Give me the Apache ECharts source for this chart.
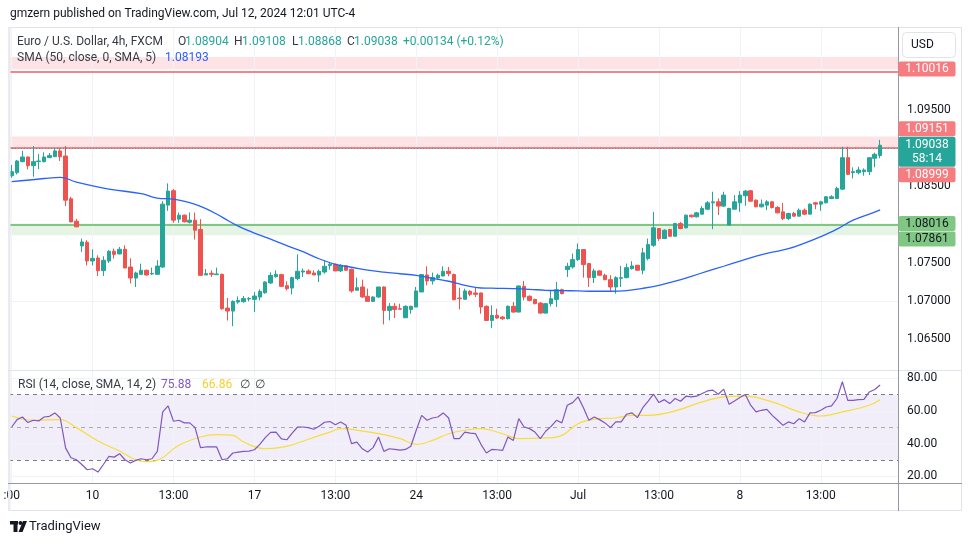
<!DOCTYPE html>
<html><head><meta charset="utf-8">
<script src="https://cdn.jsdelivr.net/npm/echarts@6/dist/echarts.min.js"></script>
<style>html,body{margin:0;padding:0;background:#fff}#c{width:970px;height:545px}</style>
</head><body><div id="c"></div><script>
// ---- data (EUR/USD 4h, FXCM) ----
const opens=[1.08639,1.08679,1.08823,1.08884,1.08770,1.08823,1.08823,1.08875,1.08888,1.08963,
1.08897,1.08338,1.08045,1.07722,1.07770,1.07525,1.07564,1.07398,1.07525,1.07652,
1.07617,1.07678,1.07446,1.07302,1.07350,1.07403,1.07355,1.07350,1.07446,1.08255,
1.08443,1.08072,1.08124,1.08032,1.08058,1.07936,1.07342,1.07364,1.07346,1.07351,
1.06909,1.06870,1.06988,1.06993,1.07028,1.07023,1.07053,1.07110,1.07237,1.07320,
1.07346,1.07202,1.07171,1.07294,1.07381,1.07394,1.07368,1.07342,1.07381,1.07465,
1.07482,1.07395,1.07461,1.07417,1.07142,1.07185,1.07063,1.06997,1.07054,1.07185,
1.06879,1.06932,1.06901,1.06783,1.06892,1.06923,1.07120,1.07342,1.07264,1.07303,
1.07329,1.07391,1.07347,1.07041,1.07024,1.07128,1.07107,1.07107,1.06932,1.06748,
1.06814,1.06792,1.06770,1.06932,1.06857,1.07194,1.07063,1.07023,1.06975,1.06844,
1.06967,1.07023,1.07150,1.07412,1.07447,1.07543,1.07674,1.07491,1.07307,1.07395,
1.07338,1.07281,1.07185,1.07298,1.07307,1.07425,1.07469,1.07404,1.07556,1.07730,
1.07949,1.07818,1.07936,1.07848,1.08014,1.07958,1.08124,1.08102,1.08137,1.08202,
1.08285,1.08298,1.08242,1.07993,1.08202,1.08285,1.08377,1.08443,1.08320,1.08233,
1.08255,1.08298,1.08224,1.08167,1.08080,1.08146,1.08111,1.08189,1.08137,1.08285,
1.08268,1.08285,1.08342,1.08342,1.08464,1.08875,1.08679,1.08679,1.08692,1.08692,
1.08867,1.08904];
const highs=[1.08779,1.08845,1.08963,1.08890,1.09028,1.08923,1.08945,1.08936,1.08989,1.08998,
1.09028,1.08364,1.08076,1.07818,1.07796,1.07678,1.07599,1.07586,1.07665,1.07687,
1.07708,1.07730,1.07560,1.07385,1.07490,1.07412,1.07438,1.07534,1.08307,1.08539,
1.08465,1.08159,1.08133,1.08159,1.08159,1.08072,1.07420,1.07403,1.07438,1.07359,
1.07040,1.07010,1.07062,1.07067,1.07053,1.07119,1.07154,1.07259,1.07377,1.07403,
1.07359,1.07259,1.07320,1.07613,1.07425,1.07416,1.07403,1.07412,1.07534,1.07513,
1.07491,1.07482,1.07470,1.07426,1.07308,1.07281,1.07163,1.07063,1.07185,1.07194,
1.06975,1.06975,1.06967,1.06945,1.06941,1.07185,1.07351,1.07456,1.07373,1.07360,
1.07456,1.07447,1.07360,1.07176,1.07163,1.07142,1.07172,1.07111,1.06945,1.06945,
1.06901,1.06805,1.06945,1.06988,1.07207,1.07264,1.07076,1.07032,1.06988,1.06975,
1.07133,1.07251,1.07163,1.07500,1.07622,1.07753,1.07678,1.07500,1.07425,1.07404,
1.07360,1.07338,1.07325,1.07460,1.07491,1.07522,1.07474,1.07696,1.07818,1.08167,
1.07953,1.07940,1.07945,1.08023,1.08036,1.08132,1.08132,1.08167,1.08242,1.08307,
1.08430,1.08342,1.08430,1.08220,1.08386,1.08438,1.08451,1.08452,1.08329,1.08329,
1.08320,1.08307,1.08242,1.08285,1.08155,1.08167,1.08211,1.08211,1.08277,1.08298,
1.08312,1.08373,1.08386,1.08495,1.09019,1.09019,1.08749,1.08757,1.08736,1.08880,
1.08941,1.09108];
const lows=[1.08613,1.08657,1.08814,1.08722,1.08626,1.08727,1.08814,1.08871,1.08884,1.08832,
1.08242,1.08032,1.07966,1.07643,1.07468,1.07468,1.07328,1.07328,1.07499,1.07556,
1.07612,1.07433,1.07232,1.07184,1.07350,1.07337,1.07341,1.07350,1.07433,1.08180,
1.08024,1.08024,1.08028,1.08015,1.07805,1.07329,1.07342,1.07316,1.07346,1.06887,
1.06747,1.06673,1.06966,1.06979,1.06997,1.06857,1.07010,1.07097,1.07228,1.07307,
1.07185,1.07140,1.07088,1.07272,1.07316,1.07350,1.07342,1.07250,1.07359,1.07412,
1.07391,1.07382,1.07396,1.07111,1.07142,1.07045,1.06997,1.06989,1.07045,1.06696,
1.06748,1.06779,1.06892,1.06783,1.06836,1.06923,1.07120,1.07207,1.07216,1.07286,
1.07325,1.07325,1.07010,1.06892,1.07024,1.07063,1.07054,1.06836,1.06748,1.06647,
1.06770,1.06757,1.06762,1.06849,1.06857,1.07010,1.06997,1.06958,1.06835,1.06835,
1.06932,1.06923,1.07089,1.07316,1.07425,1.07526,1.07307,1.07185,1.07237,1.07330,
1.07272,1.07128,1.07098,1.07185,1.07298,1.07412,1.07404,1.07351,1.07534,1.07709,
1.07787,1.07814,1.07840,1.07848,1.07940,1.07953,1.08093,1.08093,1.08133,1.08189,
1.07940,1.08124,1.08233,1.07993,1.08202,1.08167,1.08246,1.08302,1.08228,1.08224,
1.08189,1.08211,1.08146,1.08058,1.08058,1.08102,1.08107,1.08124,1.08137,1.08202,
1.08180,1.08277,1.08333,1.08333,1.08451,1.08648,1.08604,1.08657,1.08639,1.08648,
1.08749,1.08868];
const closes=[1.08692,1.08832,1.08884,1.08770,1.08823,1.08832,1.08884,1.08902,1.08963,1.08888,
1.08320,1.08036,1.07971,1.07774,1.07525,1.07560,1.07398,1.07534,1.07652,1.07612,
1.07678,1.07433,1.07302,1.07368,1.07403,1.07341,1.07363,1.07459,1.08268,1.08438,
1.08058,1.08124,1.08037,1.08058,1.07927,1.07337,1.07359,1.07351,1.07355,1.06900,
1.06870,1.06997,1.07010,1.07033,1.07036,1.07067,1.07128,1.07250,1.07337,1.07351,
1.07193,1.07163,1.07307,1.07390,1.07394,1.07359,1.07342,1.07390,1.07455,1.07482,
1.07395,1.07469,1.07404,1.07133,1.07176,1.07054,1.06997,1.07054,1.07185,1.06879,
1.06932,1.06892,1.06895,1.06932,1.06932,1.07133,1.07347,1.07264,1.07308,1.07338,
1.07391,1.07360,1.07019,1.07032,1.07133,1.07089,1.07089,1.06923,1.06748,1.06814,
1.06779,1.06770,1.06932,1.06857,1.07198,1.07054,1.07010,1.06967,1.06844,1.06967,
1.07032,1.07150,1.07098,1.07456,1.07543,1.07674,1.07478,1.07307,1.07395,1.07338,
1.07281,1.07185,1.07307,1.07307,1.07438,1.07460,1.07404,1.07631,1.07739,1.07958,
1.07818,1.07927,1.07848,1.08014,1.07949,1.08124,1.08102,1.08154,1.08211,1.08285,
1.08298,1.08242,1.08386,1.08211,1.08298,1.08386,1.08438,1.08307,1.08233,1.08268,
1.08298,1.08224,1.08154,1.08080,1.08146,1.08111,1.08189,1.08137,1.08268,1.08268,
1.08298,1.08364,1.08364,1.08473,1.08875,1.08657,1.08692,1.08714,1.08714,1.08875,
1.08919,1.09038];
// SMA(50) at these bar indices
const smaIdx=[0,6,9,12,18,24,27,30,33,36,39,42,45,48,51,54,57,60,63,66,69,72,75,78,81,84,87,90,93,96,99,102,105,108,111,114,117,120,123,126,129,132,135,138,141,144,147,150,153,156,159,161];
const smaVals=[1.08561,1.08603,1.08618,1.08557,1.08465,1.08406,1.08347,1.08334,1.08288,1.08210,1.08098,1.07980,1.07889,1.07810,1.07725,1.07646,1.07554,1.07482,1.07443,1.07404,1.07378,1.07358,1.07338,1.07299,1.07260,1.07207,1.07172,1.07168,1.07164,1.07155,1.07142,1.07138,1.07133,1.07129,1.07129,1.07138,1.07168,1.07207,1.07260,1.07325,1.07391,1.07456,1.07522,1.07587,1.07640,1.07685,1.07758,1.07843,1.07941,1.08059,1.08137,1.08193];
// RSI(14)
const rsiVals=[50.2,54.7,56.3,52.9,54.3,53.9,56.3,56.7,58.8,55.7,
37.3,31.4,30.2,27.3,24.1,24.7,22.7,27.3,32.2,31.8,
33.9,30.2,28.2,29.8,30.8,30.2,30.8,35.3,59.4,63.1,
53.7,54.3,52.7,52.7,49.8,37.6,38.0,38.0,38.0,30.2,
30.8,34.3,34.9,35.3,35.5,36.3,39.6,43.7,46.9,47.1,
42.9,42.4,46.5,50.2,50.2,49.8,48.8,50.6,53.1,53.5,
51.6,53.3,51.2,40.0,41.0,36.9,34.9,37.6,44.1,35.3,
36.9,36.5,36.1,36.5,38.4,48.2,57.3,54.3,55.7,56.3,
58.8,55.7,43.1,43.1,47.1,46.5,46.1,39.6,34.3,36.5,
36.3,35.9,44.1,42.0,55.3,50.2,49.2,47.1,43.1,47.6,
50.6,54.3,52.7,63.5,65.1,68.6,62.0,54.3,56.3,54.7,
52.7,49.8,53.3,53.3,58.0,58.8,55.9,62.0,66.0,70.2,
65.1,66.9,64.5,67.6,65.9,69.0,68.6,69.0,70.6,72.2,
72.7,70.2,73.3,64.1,66.1,68.2,70.0,63.5,59.4,60.4,
61.0,57.3,54.3,51.2,53.3,52.2,55.3,53.3,58.8,59.0,
60.4,62.4,63.1,67.6,77.8,66.5,66.5,66.9,67.1,71.6,
73.1,75.88];
// RSI-based SMA at these bar indices
const rsiSmaIdx=[0,4,9,12,16,20,23,25,27,31,35,38,41,43,47,51,55,59,61,63,68,72,75,78,81,84,87,91,94,99,102,105,108,112,115,118,123,128,132,136,141,146,150,154,159,161];
const rsiSmaVals=[56.9,54.3,54.7,49.8,41.6,35.5,30.2,29.0,29.8,39.0,44.1,45.5,45.1,41.0,36.9,38.4,42.7,47.1,49.2,48.8,46.1,43.1,39.6,42.0,46.1,48.2,49.2,46.1,43.1,43.5,45.1,52.2,54.9,55.7,57.3,57.3,60.0,65.5,68.6,69.0,65.5,59.4,56.9,59.4,63.5,66.86];
// axis ticks
const timeLabelIdx=[0,15,30,45,60,75,90,105,120,135,150];
const timeLabelText=[':00','10','13:00','17','13:00','24','13:00','Jul','13:00','8','13:00'];
const priceTicks=[1.065,1.070,1.075,1.080,1.085,1.090,1.095,1.100];
const rsiTicks=[20,40,60,80];
const rsiLevels=[30,50,70];
// drawn levels
const redZoneTop=[1.10190,1.10030];
const redZoneMid=[1.09151,1.08999];
const greenZone=[1.08016,1.07861];
const topTagValue=1.10016;
const lastPrice=1.09038;
const countdown='58:14';
const nBars=165;

const FONT='Roboto, "Liberation Sans", sans-serif';
const UP='#26a69a', DOWN='#ef5350', RED='#f77c80', GREEN='#81c784';
const cats=Array.from({length:nBars},(_,i)=>String(i));
const labelMap={}; timeLabelIdx.forEach((k,j)=>labelMap[k]=timeLabelText[j]);
const candleData=opens.map((o,i)=>[o,closes[i],lows[i],highs[i]]);
const isTick=(v)=>priceTicks.some(t=>Math.abs(t-v)<1e-7);

const chart=echarts.init(document.getElementById('c'));
const gridLine={color:'#f0f3fa',width:1,type:'solid'};
const option={
  animation:false,
  grid:[
    {left:9,right:71,top:28,height:342,outerBoundsMode:'none',containLabel:false},
    {left:9,right:71,top:370,height:113,outerBoundsMode:'none',containLabel:false}
  ],
  xAxis:[
    {type:'category',gridIndex:0,data:cats,axisLine:{show:false},axisTick:{show:false},axisLabel:{show:false},splitLine:{show:false}},
    {type:'category',gridIndex:1,data:cats,axisLine:{show:false},axisTick:{show:false},splitLine:{show:false},
     axisLabel:{show:true,interval:(i)=>labelMap[i]!==undefined,formatter:(v,i)=>labelMap[i]||'',color:'#131722',fontSize:12,fontFamily:FONT,margin:7}}
  ],
  yAxis:[
    {type:'value',gridIndex:0,position:'right',min:1.0610,max:1.1057,interval:0.0005,
     axisLine:{show:false},axisTick:{show:false},splitLine:{show:false},
     axisLabel:{color:'#131722',fontSize:12,fontFamily:FONT,margin:8,showMinLabel:false,showMaxLabel:false,
       formatter:(v)=>isTick(v)?v.toFixed(5):''}},
    {type:'value',gridIndex:1,position:'right',min:16,max:85,interval:4,
     axisLine:{show:false},axisTick:{show:false},splitLine:{show:false},
     axisLabel:{color:'#131722',fontSize:12,fontFamily:FONT,margin:8,showMaxLabel:false,
       formatter:(v)=>rsiTicks.indexOf(Math.round(v))>=0&&Math.abs(v-Math.round(v))<1e-6?v.toFixed(2):''}}
  ],
  series:[
    {name:'grid0',type:'line',xAxisIndex:0,yAxisIndex:0,data:[],silent:true,z:1,
     markLine:{silent:true,symbol:['none','none'],z:1,label:{show:false},lineStyle:gridLine,
       data:[].concat(priceTicks.map(v=>({yAxis:v})),timeLabelIdx.map(i=>({xAxis:String(i)})))},
     markArea:{silent:true,z:1,
       data:[
         [{yAxis:redZoneTop[0],itemStyle:{color:'rgba(242,54,69,0.14)'}},{yAxis:redZoneTop[1]}],
         [{yAxis:redZoneMid[0],itemStyle:{color:'rgba(242,54,69,0.14)'}},{yAxis:redZoneMid[1]}],
         [{yAxis:greenZone[0],itemStyle:{color:'rgba(76,175,80,0.14)'}},{yAxis:greenZone[1]}]
       ]}},
    {name:'zones',type:'line',xAxisIndex:0,yAxisIndex:0,data:[],silent:true,z:2,
     markLine:{silent:true,symbol:['none','none'],z:2,label:{show:false},
       data:[
         {yAxis:redZoneTop[0],lineStyle:{color:RED,width:1.5,type:'solid'}},
         {yAxis:redZoneTop[1],lineStyle:{color:RED,width:1.5,type:'solid'}},
         {yAxis:redZoneMid[0],lineStyle:{color:RED,width:1.5,type:'solid'}},
         {yAxis:redZoneMid[1],lineStyle:{color:RED,width:1.5,type:'solid'}},
         {yAxis:greenZone[0],lineStyle:{color:GREEN,width:2,type:'solid'}},
         {yAxis:greenZone[1],lineStyle:{color:GREEN,width:2,type:'solid'}}
       ]}},
    {name:'EURUSD',type:'candlestick',xAxisIndex:0,yAxisIndex:0,data:candleData,barWidth:4,z:3,
     itemStyle:{color:UP,color0:DOWN,borderColor:UP,borderColor0:DOWN,borderWidth:1},
     markLine:{silent:true,symbol:['none','none'],z:5,label:{show:false},
       data:[{yAxis:lastPrice,lineStyle:{color:UP,width:1,type:[1,2]}}]}},
    {name:'SMA',type:'line',xAxisIndex:0,yAxisIndex:0,z:4,data:smaIdx.map((k,j)=>[k,smaVals[j]]),
     smooth:0.4,symbol:'none',lineStyle:{color:'#2962ff',width:1.3}},
    {name:'grid1',type:'line',xAxisIndex:1,yAxisIndex:1,data:[],silent:true,z:1,
     markArea:{silent:true,z:1,data:[[{yAxis:rsiLevels[0],itemStyle:{color:'rgba(126,87,194,0.1)'}},{yAxis:rsiLevels[2]}]]},
     markLine:{silent:true,symbol:['none','none'],z:1,label:{show:false},
       data:[].concat(rsiTicks.map(v=>({yAxis:v,lineStyle:gridLine})),
         timeLabelIdx.map(i=>({xAxis:String(i),lineStyle:gridLine})),
         [{yAxis:rsiLevels[0],lineStyle:{color:'#787b86',width:1,type:[4,4]}},
          {yAxis:rsiLevels[1],lineStyle:{color:'#a8abb4',width:1,type:[4,4]}},
          {yAxis:rsiLevels[2],lineStyle:{color:'#787b86',width:1,type:[4,4]}}])}},
    {name:'RSI',type:'line',xAxisIndex:1,yAxisIndex:1,z:4,data:rsiVals,symbol:'none',lineStyle:{color:'#7e57c2',width:1.2}},
    {name:'RSI SMA',type:'line',xAxisIndex:1,yAxisIndex:1,z:3,data:rsiSmaIdx.map((k,j)=>[k,rsiSmaVals[j]]),
     smooth:0.4,symbol:'none',lineStyle:{color:'#f7dd3b',width:1.2}}
  ]
};
chart.setOption(option);

// ---- texts & right-axis price tags ----
function txt(x,y,s,color,size,extra,z){
  return {type:'text',x:x,y:y,silent:true,z:z||100,
    style:Object.assign({text:s,fill:color,fontSize:size||12,fontFamily:FONT,verticalAlign:'middle',align:'left'},extra||{})};
}
function hline(x1,x2,y,c){return {type:'line',silent:true,z:99,shape:{x1:x1,y1:y,x2:x2,y2:y},style:{stroke:c,lineWidth:1}};}
function vline(x,y1,y2,c){return {type:'line',silent:true,z:99,shape:{x1:x,y1:y1,x2:x,y2:y2},style:{stroke:c,lineWidth:1}};}
const LG='#363a45';
const g=[];
g.push(txt(10,14,'gmzern published on TradingView.com, Jul 12, 2024 12:01 UTC-4','#131722',12));
// frame
g.push(hline(8,962,27.5,'#e0e3eb'));
g.push(hline(8,962,510.5,'#e0e3eb'));
g.push(vline(961.5,27,511,'#e0e3eb'));
g.push({type:'rect',silent:true,z:99,shape:{x:8,y:27,width:2.5,height:484},style:{fill:'#e9ebf0'}});
g.push(hline(8,962,370.5,'#e0e3eb'));
g.push(hline(8,962,483.5,'#9598a1'));
g.push(vline(898.5,27,511,'#9598a1'));
// legends
g.push(txt(17,42,'Euro / U.S. Dollar, 4h, FXCM',LG,12));
[['O',178,185,'1.08904'],['H',234,242,'1.09108'],['L',292,298,'1.08868'],['C',347,354,'1.09038']].forEach(a=>{
  g.push(txt(a[1],42,a[0],LG,12)); g.push(txt(a[2],42,a[3],UP,12));
});
g.push(txt(403,42,'+0.00134 (+0.12%)',UP,12));
g.push(txt(17,58,'SMA (50, close, 0, SMA, 5)',LG,12));
g.push(txt(165,58,'1.08193','#2962ff',12));
g.push(txt(18,385,'RSI (14, close, SMA, 14, 2)',LG,12));
g.push(txt(161,385,'75.88','#7e57c2',12));
g.push(txt(202,385,'66.86','#f2d22e',12));
g.push(txt(240,385,'\u2205',LG,12));
g.push(txt(255,385,'\u2205',LG,12));
// USD button
g.push({type:'rect',silent:true,z:100,shape:{x:902.5,y:32.5,width:53,height:25,r:4},style:{fill:'#fff',stroke:'#e0e3eb',lineWidth:1}});
g.push(txt(911,45,'USD','#131722',12,null,101));
// logo
g.push({type:'rect',silent:true,z:100,shape:{x:10,y:521,width:8,height:3.5},style:{fill:'#131722'}});
g.push({type:'rect',silent:true,z:100,shape:{x:13.5,y:521,width:4,height:11},style:{fill:'#131722'}});
g.push({type:'circle',silent:true,z:100,shape:{cx:20.5,cy:523,r:2},style:{fill:'#131722'}});
g.push({type:'polygon',silent:true,z:100,shape:{points:[[23,521],[27,521],[22.5,532],[18.5,532]]},style:{fill:'#131722'}});
g.push(txt(29,527,'TradingView','#131722',13));

// price tags positioned from the axis scale, shifted to avoid overlap
const py=(v)=>chart.convertToPixel({yAxisIndex:0},v);
const curTop=py(lastPrice)-8.5, curH=30;
function tag(top,h,bg,fg,lines){
  g.push({type:'rect',silent:true,z:101,shape:{x:898.5,y:top,width:57,height:h,r:2},style:{fill:bg}});
  lines.forEach((s,j)=>g.push(txt(927,top+8+j*14,s,fg,12,{align:'center'},102)));
}
const tTop=py(topTagValue)-9;
tag(tTop,15,RED,'#fff',[topTagValue.toFixed(5)]);
let aTop=py(redZoneMid[0])-7.5; if(aTop+15>curTop-0.5) aTop=curTop-15.5;
tag(aTop,15,RED,'#fff',[redZoneMid[0].toFixed(5)]);
tag(curTop,curH,UP,'#fff',[lastPrice.toFixed(5),countdown]);
let bTop=py(redZoneMid[1])-7.5; if(bTop<curTop+curH+0.5) bTop=curTop+curH+0.5;
tag(bTop,15,RED,'#fff',[redZoneMid[1].toFixed(5)]);
let gTop=py(greenZone[0])-7.5;
tag(gTop,15,GREEN,'#131722',[greenZone[0].toFixed(5)]);
let hTop=py(greenZone[1])-7.5; if(hTop<gTop+15.5) hTop=gTop+15.5;
tag(hTop,15,GREEN,'#131722',[greenZone[1].toFixed(5)]);

chart.setOption({graphic:{elements:g}});
</script></body></html>
